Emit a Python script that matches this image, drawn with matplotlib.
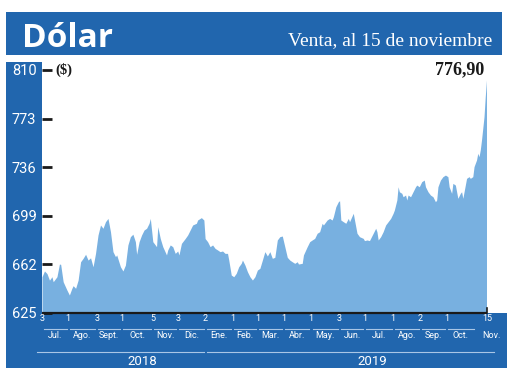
import numpy as np
import matplotlib
matplotlib.use('Agg')
import matplotlib.pyplot as plt
from matplotlib.patches import Rectangle
from matplotlib.transforms import blended_transform_factory

# ---------------- data ----------------
inicio = '2018-07-03'
# business-day offset from inicio
dias = [0, 2, 4, 6, 8, 9, 12, 14, 15, 17, 20, 22, 24, 25, 27, 29, 31, 33, 35, 37,
        39, 41, 43, 45, 47, 49, 51, 53, 55, 57, 59, 60, 63, 65, 67, 69, 71, 73, 75, 76,
        78, 80, 82, 84, 86, 87, 89, 92, 93, 95, 97, 100, 101, 103, 105, 107, 109, 110, 112, 115,
        117, 119, 121, 124, 125, 127, 128, 130, 131, 133, 135, 137, 139, 141, 143, 145, 147, 149, 150, 152,
        154, 156, 158, 160, 161, 163, 165, 167, 169, 171, 173, 175, 177, 179, 181, 183, 185, 187, 189, 191,
        193, 195, 197, 199, 201, 203, 205, 206, 209, 210, 213, 215, 217, 219, 221, 223, 225, 226, 229, 231,
        233, 234, 236, 238, 239, 240, 242, 244, 246, 247, 250, 251, 253, 255, 258, 259, 261, 263, 266, 268,
        269, 270, 272, 274, 276, 278, 280, 282, 283, 285, 286, 287, 289, 290, 292, 293, 294, 296, 298, 300,
        301, 303, 305, 307, 308, 310, 312, 314, 316, 317, 318, 320, 322, 324, 326, 327, 329, 330, 332, 333,
        334, 336, 337, 338, 340, 341, 343, 344, 346, 347, 349, 350, 351, 352, 353, 355, 356, 357]
dolar = [652.6, 657.0, 655.0, 650.0, 652.6, 648.8, 652.6, 662.3, 662.0, 648.8, 642.5, 638.7, 643.8, 645.8, 643.8, 650.0, 664.0, 666.6, 669.7, 665.3,
         667.0, 660.2, 670.4, 684.4, 692.0, 689.5, 694.5, 697.0, 686.9, 671.7, 667.9, 669.2, 660.2, 657.0, 661.5, 676.8, 683.1, 685.0, 679.3, 669.7,
         679.3, 684.4, 688.2, 689.5, 693.3, 697.0, 679.3, 675.5, 690.7, 681.7, 675.5, 669.2, 673.0, 676.8, 675.5, 670.4, 672.2, 669.2, 678.0, 681.7,
         684.4, 688.2, 692.0, 693.3, 695.8, 697.0, 697.6, 695.8, 681.7, 679.3, 675.5, 676.8, 674.2, 673.0, 671.7, 672.2, 670.4, 670.4, 665.3, 653.9,
         652.6, 655.2, 660.2, 662.8, 665.3, 661.5, 656.4, 652.6, 650.1, 652.6, 657.7, 659.0, 665.3, 671.7, 668.4, 671.7, 666.6, 667.4, 680.6, 683.1,
         683.6, 675.5, 667.4, 665.3, 664.0, 662.8, 664.0, 662.3, 662.8, 669.2, 675.5, 679.3, 680.6, 681.8, 685.7, 686.9, 693.3, 692.0, 695.8, 697.0,
         695.8, 698.3, 705.9, 709.7, 710.5, 695.8, 694.5, 693.3, 697.0, 694.5, 700.9, 695.8, 685.7, 683.1, 681.8, 680.1, 680.6, 680.1, 685.7, 689.5,
         686.9, 680.6, 683.1, 686.9, 692.0, 694.5, 697.0, 700.9, 703.4, 711.0, 721.1, 717.3, 716.1, 713.5, 714.8, 711.0, 714.8, 713.5, 717.3, 721.1,
         722.4, 721.1, 725.0, 726.2, 721.1, 717.3, 714.8, 713.5, 709.7, 711.0, 721.1, 726.2, 728.8, 730.0, 728.8, 721.1, 716.1, 723.7, 722.4, 717.3,
         712.3, 716.1, 717.3, 712.3, 722.4, 727.5, 728.8, 727.5, 728.8, 736.4, 741.5, 746.6, 744.0, 749.1, 756.7, 774.4, 789.7, 802.4]

y_ticks = [625, 662, 699, 736, 773, 810]
limites_mes = ['2018-07-03', '2018-08-01', '2018-09-03', '2018-10-01', '2018-11-05', '2018-12-03',
               '2019-01-02', '2019-02-01', '2019-03-01', '2019-04-01', '2019-05-01', '2019-06-03',
               '2019-07-01', '2019-08-01', '2019-09-02', '2019-10-01', '2019-11-01']
etiquetas_dia = ['3', '1', '3', '1', '5', '3', '2', '1', '1', '1', '1', '3', '1', '1', '2', '1', '']
meses = ['Jul.', 'Ago.', 'Sept.', 'Oct.', 'Nov.', 'Dic.', 'Ene.', 'Feb.', 'Mar.', 'Abr.',
         'May.', 'Jun.', 'Jul.', 'Ago.', 'Sep.', 'Oct.', 'Nov.']
anios = ['2018', '2019']
inicio_anio = ['2018-07-03', '2019-01-02']
fecha_final = '2019-11-15'
etiqueta_final = '15'
titulo = 'Dólar'
subtitulo = 'Venta, al 15 de noviembre'
unidad = '($)'
ultimo_valor = '776,90'

# ---------------- layout ----------------
W, H = 520, 373
BLUE = '#2166ae'
FILL = '#78b0e0'
LINE = '#a9c6e6'
NARROW = ['Roboto', 'DejaVu Sans']
SERIF = ['Liberation Serif', 'DejaVu Serif']

fig = plt.figure(figsize=(W / 100, H / 100), dpi=100)
fig.patch.set_facecolor('white')


def fx(px):
    return px / W


def fy(py):
    return 1 - py / H


def frect(x0, y0, x1, y1, color):
    fig.patches.append(Rectangle((fx(x0), fy(y1)), fx(x1) - fx(x0), fy(y0) - fy(y1),
                                 transform=fig.transFigure, color=color, zorder=-5, lw=0))


frect(6, 12, 502, 55, BLUE)     # title bar
frect(6, 62, 42, 313, BLUE)     # left strip
frect(6, 313, 507, 368, BLUE)   # bottom strip

fig.text(fx(22), fy(47), titulo, color='white', fontsize=24, fontweight='bold',
         family=['Open Sans', 'DejaVu Sans'], ha='left', va='baseline')
fig.text(fx(492), fy(45), subtitulo, color='white', fontsize=14,
         family=SERIF, ha='right', va='baseline')

ax_l, ax_r, ax_b, ax_t = 42, 507, 313, 70
ax = fig.add_axes([fx(ax_l), fy(ax_b), fx(ax_r) - fx(ax_l), fy(ax_t) - fy(ax_b)])
ax.set_facecolor('none')
ax.set_zorder(2)
px_per_day = 444.5 / dias[-1]
ax.set_xlim(0, (ax_r - ax_l) / px_per_day)
ax.set_ylim(y_ticks[0], y_ticks[-1])

ax.fill_between(dias, dolar, y_ticks[0], color=FILL, lw=0, zorder=1)

for s in ax.spines.values():
    s.set_visible(False)
ax.plot([dias[0], dias[-1]], [y_ticks[0], y_ticks[0]], color='#1a1a1a', lw=1.6,
        clip_on=False, zorder=3, solid_capstyle='butt')
ax.plot([dias[-1], dias[-1]], [y_ticks[0], y_ticks[0] + 3.5], color='#1a1a1a', lw=1.2,
        clip_on=False, zorder=3)

ax.set_yticks(y_ticks)
ax.set_yticklabels([str(v) for v in y_ticks], color='white', fontsize=10.5, family=NARROW)
ax.tick_params(axis='y', direction='in', length=7, width=2, color='#1a1a1a', pad=4)
ax.set_xticks([])

ax.text(13 / px_per_day, 810, unidad, fontsize=10.5, fontweight='bold', family=SERIF,
        ha='left', va='center', color='#1a1a1a')
ax.text(dias[-1] - 1.5, 810, ultimo_valor, fontsize=13, fontweight='bold', family=SERIF,
        ha='right', va='center', color='#1a1a1a')

# bottom date axis
tr = blended_transform_factory(ax.transData, ax.transAxes)
axh = ax_b - ax_t


def ay(py):
    return (ax_b - py) / axh


pos = np.busday_count(inicio, limites_mes)
pos_final = np.busday_count(inicio, fecha_final)
right_lim = ax.get_xlim()[1]
gap = 1.6 / px_per_day

for p, lab in zip(pos, etiquetas_dia):
    if lab:
        ax.text(p, ay(318.5), lab, transform=tr, color='white', fontsize=6.5, family=NARROW,
                ha='center', va='center')
ax.text(pos_final, ay(318.5), etiqueta_final, transform=tr, color='white', fontsize=6.5,
        family=NARROW, ha='center', va='center')

bounds = list(pos) + [right_lim]
for i, m in enumerate(meses):
    a, b = bounds[i], bounds[i + 1]
    if i < len(meses) - 1:
        ax.plot([a + gap, b - gap], [ay(329)] * 2, transform=tr, color=LINE, lw=0.8,
                clip_on=False)
    ax.text((a + b) / 2, ay(336), m, transform=tr, color='white', fontsize=6.5, family=NARROW,
            ha='center', va='center')

ya = list(np.busday_count(inicio, inicio_anio)) + [pos_final + 6 / px_per_day]
for i, yr in enumerate(anios):
    a = ya[i] + (gap if i > 0 else -5 / px_per_day)
    b = ya[i + 1] - (gap if i + 1 < len(anios) else 0)
    ax.plot([a, b], [ay(352)] * 2, transform=tr, color=LINE, lw=0.8, clip_on=False)
    ax.text((a + b) / 2 + 22 / px_per_day, ay(361.5), yr, transform=tr, color='white',
            fontsize=9.5, family=NARROW, ha='center', va='center')

fig.savefig('out.png', dpi=100)
